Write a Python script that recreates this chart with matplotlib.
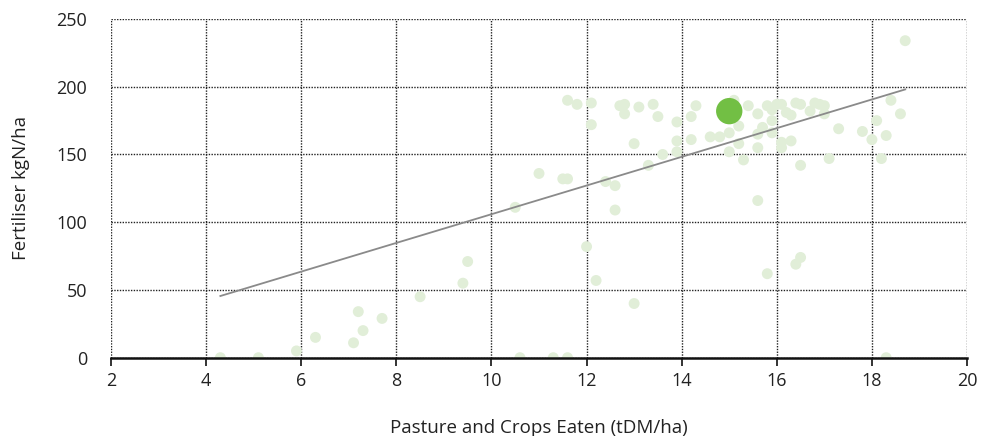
import matplotlib
matplotlib.use("Agg")
import matplotlib.pyplot as plt
import numpy as np

plt.rcParams['font.family'] = ['Open Sans', 'DejaVu Sans']

# Data: pasture & crops eaten (tDM/ha) vs fertiliser (kgN/ha)
eaten = [4.3, 5.1, 5.9, 6.3, 7.1, 7.2, 7.3, 7.7, 8.5, 9.4, 9.5,
         10.5, 10.6, 11.0, 11.3, 11.5, 11.6, 11.6, 11.6, 11.8, 12.0,
         12.1, 12.1, 12.2, 12.4, 12.6, 12.6, 12.7, 12.8, 12.8, 13.0,
         13.0, 13.1, 13.3, 13.4, 13.5, 13.6, 13.9, 13.9, 13.9, 14.2,
         14.2, 14.3, 14.6, 14.8, 15.0, 15.0, 15.1, 15.2, 15.2, 15.3,
         15.4, 15.6, 15.6, 15.6, 15.6, 15.7, 15.8, 15.8, 15.9, 15.9,
         15.9, 16.0, 16.1, 16.1, 16.1, 16.2, 16.3, 16.3, 16.4, 16.5,
         16.4, 16.5, 16.5, 16.7, 16.8, 16.9, 17.0, 17.0, 17.1, 17.3,
         17.8, 18.0, 18.1, 18.2, 18.3, 18.3, 18.4, 18.6, 18.7]
fertiliser = [0, 0, 5, 15, 11, 34, 20, 29, 45, 55, 71,
              111, 0, 136, 0, 132, 132, 0, 190, 187, 82,
              188, 172, 57, 130, 127, 109, 186, 187, 180, 158,
              40, 185, 142, 187, 178, 150, 174, 160, 152, 178,
              161, 186, 163, 163, 166, 152, 190, 171, 158, 146,
              186, 180, 165, 155, 116, 170, 186, 62, 183, 175,
              166, 187, 187, 159, 155, 181, 179, 160, 188, 187,
              69, 74, 142, 182, 188, 187, 186, 180, 147, 169,
              167, 161, 175, 147, 164, 0, 190, 180, 234]

# Highlighted farm
highlight_x = [15.0]
highlight_y = [182]

# Trend line (start/end x, slope, intercept)
trend_x = [4.3, 18.7]
trend_slope = 10.59
trend_intercept = 0.0

x_ticks = [2, 4, 6, 8, 10, 12, 14, 16, 18, 20]
y_ticks = [0, 50, 100, 150, 200, 250]

fig = plt.figure(figsize=(9.9, 4.36), dpi=100)
ax = fig.add_axes([0.1121, 0.1796, 0.8647, 0.7768])

ax.scatter(eaten, fertiliser, s=62, color='#e1eed8', edgecolors='none', zorder=3)
tx = np.array(trend_x)
ax.plot(tx, trend_slope * tx + trend_intercept, color='#8a8a8a', lw=1.3, zorder=4)
ax.scatter(highlight_x, highlight_y, s=360, color='#72bf44', edgecolors='none', zorder=5)

ax.set_xlim(2, 20)
ax.set_ylim(0, 250)
ax.set_xticks(x_ticks)
ax.set_yticks(y_ticks)

ax.grid(True, linestyle=(0, (1, 1)), color='#222222', lw=1.0, zorder=1)
ax.set_axisbelow(True)
for s in ['top', 'right', 'left']:
    ax.spines[s].set_visible(False)
ax.spines['bottom'].set_linewidth(1.8)
ax.spines['bottom'].set_color('#111111')
ax.spines['bottom'].set_zorder(6)

ax.tick_params(axis='x', direction='out', length=6, width=1.2, color='#111111',
               labelsize=13, pad=4, labelcolor='#222222')
ax.tick_params(axis='y', length=0, labelsize=13, pad=17, labelcolor='#222222')

ax.set_xlabel('Pasture and Crops Eaten (tDM/ha)', fontsize=13.5, color='#222222', labelpad=21)
ax.set_ylabel('Fertiliser kgN/ha', fontsize=13.5, color='#222222', labelpad=19)

fig.savefig('out.png', dpi=100)
